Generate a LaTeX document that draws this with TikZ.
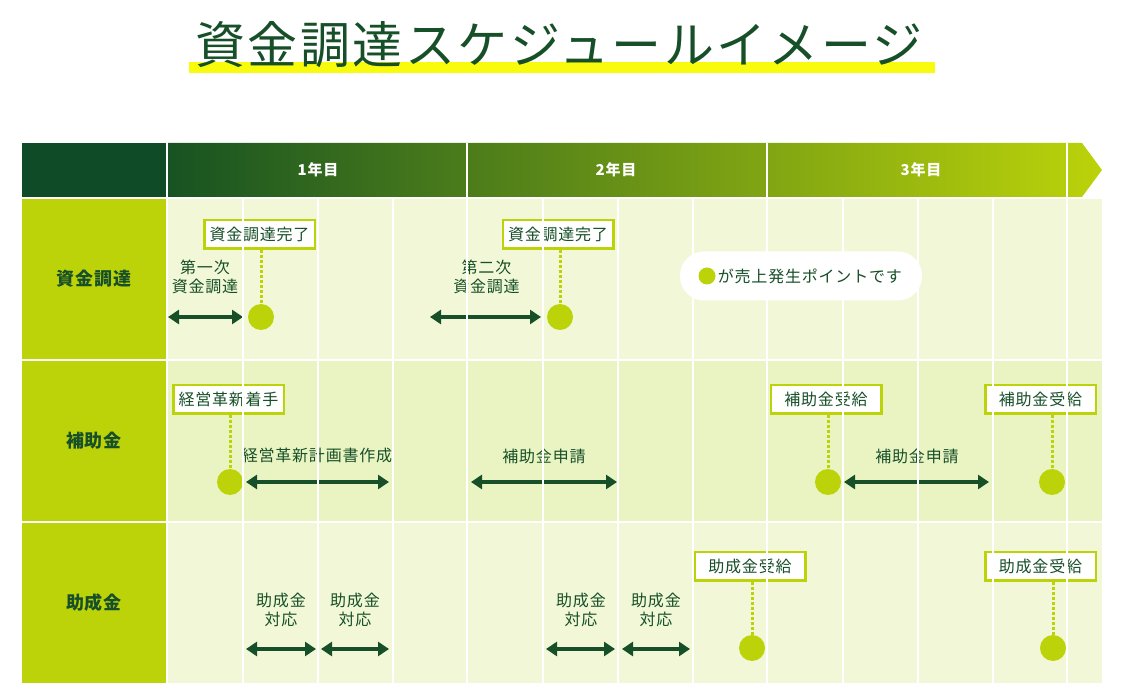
\documentclass[tikz,border=0pt]{standalone}
\usepackage{fontspec}
\setmainfont{Noto Sans CJK JP}[LetterSpace=5]
\usetikzlibrary{arrows.meta}
\definecolor{dgreen}{HTML}{164F28}
\definecolor{hgreen}{HTML}{0F4B26}
\definecolor{lime}{HTML}{BCD30A}
\definecolor{rowa}{HTML}{F2F8D7}
\definecolor{rowb}{HTML}{EAF4C3}
\definecolor{hilite}{HTML}{F8FC0C}
\definecolor{bandleft}{HTML}{175322}
\tikzstyle{every node}=[text=dgreen,font=\fontsize{16}{19}\selectfont,inner sep=0pt]
\tikzstyle{rowhead}=[fill=lime,minimum width=144pt,minimum height=160pt,font=\fontsize{18}{20}\selectfont\bfseries]
\tikzstyle{year}=[text=white,font=\fontsize{15}{17}\selectfont\bfseries]
\tikzstyle{eventbox}=[draw=lime,line width=2.5pt,fill=white,minimum width=110.5pt,minimum height=28.5pt]
\tikzstyle{point}=[circle,fill=lime,minimum size=26pt]
\tikzstyle{lead}=[lime,line width=3pt,dash pattern=on 3pt off 2pt]
\tikzstyle{span}=[dgreen,line width=4pt,>={Triangle[length=11pt,width=14pt]},<->]
\tikzstyle{gridline}=[white,line width=1.3pt]

\begin{document}
\begin{tikzpicture}[x=1pt,y=-1pt]
\useasboundingbox (0,0) rectangle (1128,700);
\fill[hilite] (189,62) rectangle (935,73);
\node[font=\fontsize{50}{56}\selectfont] (title) at (559,45) {資金調達スケジュールイメージ};

\fill[hgreen] (22,143) rectangle (166,197);
\shade[left color=bandleft,right color=lime] (168,143) -- (1082,143) -- (1102,170) -- (1082,197) -- (168,197) -- cycle;
\foreach \x in {467,767,1067}
  \draw[gridline] (\x,143) -- (\x,197);
\node[year] (y1) at (318,170) {1年目};
\node[year] (y2) at (616,170) {2年目};
\node[year] (y3) at (921,170) {3年目};

\fill[rowa] (168,199) rectangle (1102,359);
\fill[rowb] (168,361) rectangle (1102,521);
\fill[rowa] (168,523) rectangle (1102,683);
\node[rowhead] (fund) at (94,279) {資金調達};
\node[rowhead] (subsidy) at (94,441) {補助金};
\node[rowhead] (grant) at (94,603) {助成金};

% 資金調達
\node[eventbox] (done1) at (259.5,234.5) {資金調達完了};
\node[point] (p11) at (261,317) {};
\draw[lead] (p11 |- done1.south) -- (p11.north);
\node[align=center] (first) at (205,277) {第一次\\資金調達};
\coordinate (s11a) at (168,317);
\coordinate (s11b) at (243,317);
\draw[span] (s11a) -- (s11b);
\node[eventbox] (done2) at (558,234.5) {資金調達完了};
\node[point] (p12) at (560,317) {};
\draw[lead] (p12 |- done2.south) -- (p12.north);
\node[align=center] (second) at (486.5,277) {第二次\\資金調達};
\coordinate (s12a) at (430,317);
\coordinate (s12b) at (541,317);
\draw[span] (s12a) -- (s12b);

% 補助金
\node[eventbox] (start) at (228.5,399.5) {経営革新着手};
\node[point] (p21) at (230,482) {};
\draw[lead] (p21 |- start.south) -- (p21.north);
\node (plan) at (317,455) {経営革新計画書作成};
\coordinate (s21a) at (246,482);
\coordinate (s21b) at (389,482);
\draw[span] (s21a) -- (s21b);
\node (apply1) at (544,456) {補助金申請};
\coordinate (s22a) at (471,482);
\coordinate (s22b) at (617,482);
\draw[span] (s22a) -- (s22b);
\node[eventbox] (recv1) at (826,399.5) {補助金受給};
\node[point] (p22) at (828,482) {};
\draw[lead] (p22 |- recv1.south) -- (p22.north);
\node (apply2) at (917,456) {補助金申請};
\coordinate (s23a) at (844,482);
\coordinate (s23b) at (989,482);
\draw[span] (s23a) -- (s23b);
\node[eventbox] (recv2) at (1040.5,399.5) {補助金受給};
\node[point] (p23) at (1052,482) {};
\draw[lead] (p23 |- recv2.south) -- (p23.north);

% 助成金
\node[align=center] (act1) at (281,610) {助成金\\対応};
\coordinate (s31a) at (246,649);
\coordinate (s31b) at (316,649);
\draw[span] (s31a) -- (s31b);
\node[align=center] (act2) at (355,610) {助成金\\対応};
\coordinate (s32a) at (321,649);
\coordinate (s32b) at (389,649);
\draw[span] (s32a) -- (s32b);
\node[align=center] (act3) at (581,610) {助成金\\対応};
\coordinate (s33a) at (546,649);
\coordinate (s33b) at (615,649);
\draw[span] (s33a) -- (s33b);
\node[align=center] (act4) at (656,610) {助成金\\対応};
\coordinate (s34a) at (622,649);
\coordinate (s34b) at (690,649);
\draw[span] (s34a) -- (s34b);
\node[eventbox] (gain1) at (750,566) {助成金受給};
\node[point] (p31) at (752,648) {};
\draw[lead] (p31 |- gain1.south) -- (p31.north);
\node[eventbox] (gain2) at (1040.5,566) {助成金受給};
\node[point] (p32) at (1053,648) {};
\draw[lead] (p32 |- gain2.south) -- (p32.north);

\foreach \x in {243,318,393,467,543,618,693,767,843,918,993,1067}
  \draw[gridline] (\x,199) -- (\x,683);

\node[fill=white,rounded corners=24pt,minimum width=242pt,minimum height=49pt] (legend) at (801,276) {};
\node[circle,fill=lime,minimum size=17pt] (ldot) at (707,276) {};
\node[anchor=west] (ltext) at ([xshift=2pt]ldot.east) {が売上発生ポイントです};
\end{tikzpicture}
\end{document}
